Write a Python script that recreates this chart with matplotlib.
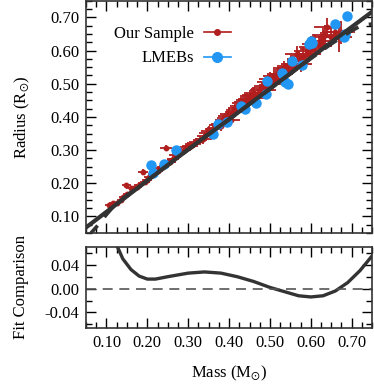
import numpy as np
import matplotlib
matplotlib.use('Agg')
import matplotlib.pyplot as plt
from matplotlib.lines import Line2D
from matplotlib.ticker import MultipleLocator, FormatStrFormatter

plt.rcParams['font.family'] = ['Liberation Serif', 'DejaVu Serif']
plt.rcParams['mathtext.fontset'] = 'stix'
plt.rcParams['font.size'] = 12

# --- our sample (red), mass / radius / errors
sampMass = [0.105, 0.115, 0.125, 0.135, 0.140, 0.150, 0.149, 0.160, 0.168, 0.175,
            0.180, 0.189, 0.195, 0.200, 0.205, 0.215, 0.225, 0.230, 0.238, 0.246,
            0.250, 0.255, 0.262, 0.268, 0.275, 0.282, 0.290, 0.295, 0.300, 0.308,
            0.315, 0.320, 0.328, 0.335, 0.340, 0.345, 0.350, 0.355, 0.360, 0.365,
            0.370, 0.375, 0.380, 0.385, 0.390, 0.395, 0.400, 0.405, 0.410, 0.415,
            0.420, 0.425, 0.430, 0.435, 0.440, 0.445, 0.450, 0.455, 0.460, 0.465,
            0.470, 0.475, 0.480, 0.485, 0.490, 0.495, 0.500, 0.505, 0.510, 0.515,
            0.520, 0.530, 0.535, 0.540, 0.545, 0.550, 0.555, 0.560, 0.566, 0.570,
            0.575, 0.580, 0.590, 0.595, 0.600, 0.605, 0.610, 0.620, 0.625, 0.630,
            0.635, 0.640, 0.650, 0.660, 0.668, 0.675]
sampRad = [0.135, 0.140, 0.142, 0.150, 0.158, 0.168, 0.195, 0.185, 0.186, 0.188,
           0.196, 0.235, 0.205, 0.210, 0.220, 0.228, 0.236, 0.245, 0.250, 0.306,
           0.262, 0.265, 0.272, 0.285, 0.290, 0.296, 0.300, 0.308, 0.312, 0.312,
           0.318, 0.325, 0.330, 0.332, 0.342, 0.352, 0.358, 0.345, 0.364, 0.368,
           0.376, 0.380, 0.372, 0.390, 0.396, 0.402, 0.410, 0.392, 0.414, 0.422,
           0.428, 0.434, 0.442, 0.446, 0.452, 0.454, 0.462, 0.467, 0.472, 0.456,
           0.462, 0.480, 0.486, 0.494, 0.480, 0.506, 0.514, 0.500, 0.522, 0.515,
           0.528, 0.530, 0.546, 0.540, 0.552, 0.548, 0.560, 0.555, 0.590, 0.575,
           0.560, 0.585, 0.600, 0.590, 0.610, 0.605, 0.620, 0.618, 0.630, 0.640,
           0.648, 0.670, 0.640, 0.655, 0.640, 0.655]
sampMassErr = [0.008, 0.008, 0.009, 0.009, 0.010, 0.010, 0.010, 0.011, 0.011, 0.011,
               0.012, 0.012, 0.012, 0.012, 0.013, 0.013, 0.013, 0.014, 0.014, 0.014,
               0.014, 0.015, 0.015, 0.015, 0.015, 0.016, 0.016, 0.016, 0.016, 0.017,
               0.017, 0.017, 0.017, 0.018, 0.018, 0.018, 0.018, 0.019, 0.019, 0.019,
               0.019, 0.020, 0.020, 0.020, 0.020, 0.021, 0.021, 0.021, 0.021, 0.022,
               0.022, 0.022, 0.022, 0.023, 0.023, 0.023, 0.023, 0.024, 0.024, 0.024,
               0.024, 0.025, 0.025, 0.025, 0.025, 0.026, 0.026, 0.026, 0.026, 0.027,
               0.027, 0.027, 0.027, 0.028, 0.028, 0.028, 0.028, 0.029, 0.029, 0.029,
               0.029, 0.030, 0.030, 0.030, 0.030, 0.031, 0.031, 0.031, 0.031, 0.032,
               0.032, 0.032, 0.032, 0.033, 0.033, 0.033]
sampRadErr = [0.005, 0.005, 0.005, 0.006, 0.006, 0.006, 0.006, 0.007, 0.007, 0.007,
              0.007, 0.008, 0.008, 0.008, 0.008, 0.009, 0.009, 0.009, 0.009, 0.010,
              0.010, 0.010, 0.010, 0.011, 0.011, 0.011, 0.011, 0.012, 0.012, 0.012,
              0.012, 0.013, 0.013, 0.013, 0.013, 0.014, 0.014, 0.014, 0.014, 0.015,
              0.015, 0.015, 0.015, 0.016, 0.016, 0.016, 0.016, 0.017, 0.017, 0.017,
              0.017, 0.018, 0.018, 0.018, 0.018, 0.019, 0.019, 0.019, 0.019, 0.020,
              0.020, 0.020, 0.020, 0.021, 0.021, 0.021, 0.021, 0.022, 0.022, 0.022,
              0.022, 0.023, 0.023, 0.023, 0.023, 0.024, 0.024, 0.024, 0.024, 0.025,
              0.025, 0.025, 0.025, 0.026, 0.026, 0.026, 0.026, 0.027, 0.027, 0.027,
              0.028, 0.028, 0.030, 0.032, 0.045, 0.035]

# --- low-mass eclipsing binaries (blue)
ebMass = [0.210, 0.213, 0.242, 0.270, 0.360, 0.372, 0.395, 0.430, 0.440, 0.465,
          0.494, 0.490, 0.530, 0.538, 0.545, 0.554, 0.579, 0.595, 0.600, 0.604,
          0.660, 0.688, 0.684, 0.680]
ebRad = [0.255, 0.232, 0.258, 0.300, 0.350, 0.378, 0.385, 0.432, 0.425, 0.442,
         0.507, 0.470, 0.532, 0.505, 0.500, 0.568, 0.557, 0.620, 0.628, 0.622,
         0.680, 0.703, 0.650, 0.640]

# --- fitted relation (solid) and literature relation (dashed)
fitMass = [0.05, 0.10, 0.15, 0.20, 0.25, 0.30, 0.35, 0.40, 0.45, 0.50,
           0.55, 0.60, 0.65, 0.70, 0.75]
fitRad = [0.067, 0.114, 0.161, 0.208, 0.255, 0.302, 0.348, 0.393, 0.439, 0.485,
          0.531, 0.578, 0.625, 0.671, 0.717]
litMass = [0.055, 0.08, 0.10, 0.12, 0.15, 0.20, 0.25, 0.30, 0.35, 0.40,
           0.45, 0.50, 0.55, 0.60, 0.65, 0.70, 0.725, 0.75]
litRad = [0.040, 0.075, 0.106, 0.134, 0.164, 0.209, 0.255, 0.301, 0.347, 0.392,
          0.438, 0.484, 0.530, 0.576, 0.620, 0.660, 0.676, 0.680]

# --- difference between the two relations
cmpMass = [0.120, 0.127, 0.14, 0.16, 0.18, 0.20, 0.22, 0.25, 0.30, 0.34, 0.38,
           0.42, 0.46, 0.50, 0.54, 0.57, 0.60, 0.63, 0.66, 0.69, 0.72, 0.75]
cmpVal = [0.082, 0.070, 0.050, 0.032, 0.021, 0.016, 0.016, 0.020, 0.026, 0.028,
          0.026, 0.020, 0.012, 0.002, -0.006, -0.012, -0.014, -0.012, -0.004,
          0.010, 0.030, 0.055]

red = '#b01e1e'
blue = '#2196f3'
dark = '#333333'

fig = plt.figure(figsize=(3.74, 3.84), dpi=100)
ax1 = fig.add_axes([0.23, 0.393, 0.765, 0.605])
ax2 = fig.add_axes([0.23, 0.146, 0.765, 0.211])

ax1.errorbar(sampMass, sampRad, xerr=sampMassErr, yerr=sampRadErr, fmt='o',
             color=red, ms=3.2, elinewidth=1.3, capsize=0, zorder=2)
ax1.errorbar(ebMass, ebRad, xerr=0.004, yerr=0.003, fmt='o', color=blue,
             ms=6.5, elinewidth=1.0, capsize=0, zorder=3)
ax1.plot(litMass, litRad, '--', color=dark, lw=2.6, dashes=(4, 3), zorder=4)
ax1.plot(fitMass, fitRad, '-', color=dark, lw=3.0, zorder=5)

ax1.set_xlim(0.05, 0.75)
ax1.set_ylim(0.05, 0.75)
ax1.set_ylabel(r'Radius (R$_{\odot}$)', labelpad=13)
ax1.yaxis.set_major_locator(MultipleLocator(0.1))
ax1.yaxis.set_minor_locator(MultipleLocator(0.025))
ax1.yaxis.set_major_formatter(FormatStrFormatter('%.2f'))
ax1.xaxis.set_major_locator(MultipleLocator(0.1))
ax1.xaxis.set_minor_locator(MultipleLocator(0.025))
ax1.tick_params(labelbottom=False)

hSamp = Line2D([], [], color=red, lw=1.2, marker='o', ms=4)
hEb = Line2D([], [], color=blue, lw=1.2, marker='o', ms=7)
ax1.legend([hSamp, hEb], ['Our Sample', 'LMEBs'], loc='upper left',
           bbox_to_anchor=(0.075, 0.92), borderaxespad=0, frameon=False,
           markerfirst=False, handlelength=1.6, handletextpad=0.6,
           labelspacing=0.5, fontsize=12)

ax2.plot(cmpMass, cmpVal, '-', color=dark, lw=2.4)
ax2.axhline(0.0, color='#555555', lw=1.2, dashes=(6, 4))
ax2.set_xlim(0.05, 0.75)
ax2.set_ylim(-0.066, 0.07)
ax2.set_xlabel(r'Mass (M$_{\odot}$)', labelpad=9)
ax2.set_ylabel('Fit Comparison', labelpad=11)
ax2.yaxis.set_major_locator(MultipleLocator(0.04))
ax2.yaxis.set_minor_locator(MultipleLocator(0.02))
ax2.yaxis.set_major_formatter(FormatStrFormatter('%.2f'))
ax2.xaxis.set_major_locator(MultipleLocator(0.1))
ax2.xaxis.set_minor_locator(MultipleLocator(0.025))
ax2.xaxis.set_major_formatter(FormatStrFormatter('%.2f'))

for ax in (ax1, ax2):
    ax.tick_params(which='both', direction='in', top=True, right=True, width=1.0)
    ax.tick_params(which='major', length=7, pad=5)
    ax.tick_params(which='minor', length=4)
    for sp in ax.spines.values():
        sp.set_linewidth(1.2)
        sp.set_color('#333333')

fig.savefig('out.png', dpi=100)
